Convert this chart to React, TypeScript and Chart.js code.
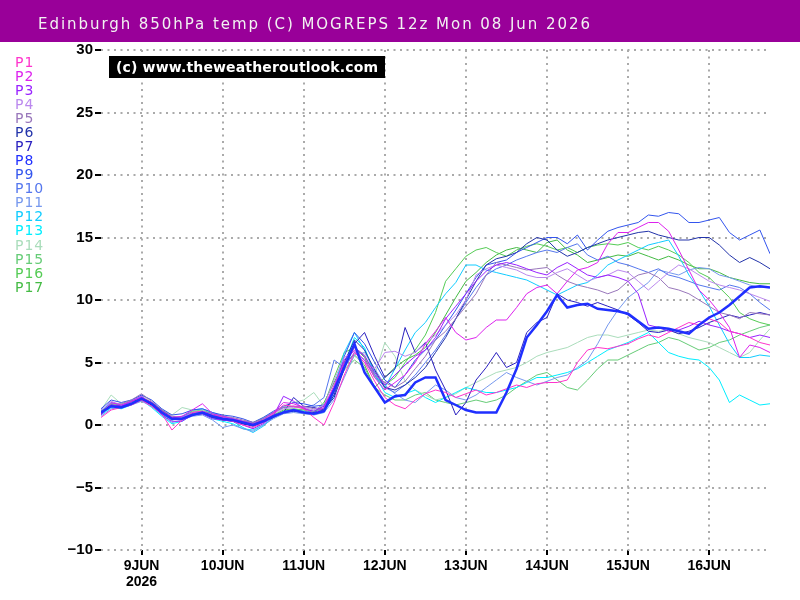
import React, { useEffect, useRef } from 'react';
import { Chart, registerables } from 'chart.js';

Chart.register(...registerables);

const TITLE = 'Edinburgh 850hPa temp (C) MOGREPS 12z Mon 08 Jun 2026';
const WATERMARK = '(c) www.theweatheroutlook.com';

// hours after 08 Jun 12z, 3-hourly
const hours = Array.from({ length: 67 }, (_, k) => k * 3);

const tickHours = [12, 36, 60, 84, 108, 132, 156, 180];
const tickLabels: (string | string[])[] = [['9JUN', '2026'], '10JUN', '11JUN', '12JUN', '13JUN', '14JUN', '15JUN', '16JUN'];

const runLabels = ['P1', 'P2', 'P3', 'P4', 'P5', 'P6', 'P7', 'P8', 'P9', 'P10', 'P11', 'P12', 'P13', 'P14', 'P15', 'P16', 'P17'];
const runColors = ['#ff33cc', '#dd22ee', '#9922ff', '#bb88ee', '#9977bb', '#2233aa', '#2a20c0', '#1f2fff', '#3355ee', '#5577ee', '#7799ee', '#11ccff', '#00eeff', '#aaddbb', '#66cc77', '#55cc55', '#44bb44'];

const P1 = [0.6,1.2,1.4,1.6,2.0,1.5,0.9,-0.4,0.4,1.0, 1.1,0.8,0.6,0.3,0.0,-0.2,0.2,0.9,1.6,1.5, 1.3,0.6,0.0,1.8,4.0,5.8,5.0,3.5,2.2,1.6, 1.3,2.0,2.5,2.8,2.6,2.2,2.5,2.8,2.4,2.6, 2.9,3.2,3.0,3.3,3.4,3.4,3.6,5.0,6.0,6.2, 6.1,6.3,6.5,6.9,7.2,7.0,7.4,7.8,8.2,8.0, 8.5,8.2,7.5,7.3,7.0,6.6,6.4];
const P2 = [0.9,1.8,1.6,1.9,2.2,1.8,1.1,0.6,0.7,1.2, 1.7,0.9,0.7,0.5,0.3,0.1,0.4,1.0,1.8,1.7, 1.4,0.9,1.4,3.2,5.0,6.0,5.2,3.8,2.8,3.4, 4.0,5.0,6.5,7.5,8.6,7.4,6.8,7.0,7.8,8.4, 8.4,9.4,10.5,11.0,11.2,10.5,11.5,12.4,12.6,13.0, 14.5,15.4,15.4,15.8,16.2,16.2,15.5,14.0,12.4,10.8, 10.0,9.0,7.8,5.4,6.4,6.2,5.8];
const P3 = [0.8,1.6,1.5,1.9,2.3,1.7,0.8,0.3,0.3,0.8, 0.9,0.5,0.4,0.3,0.0,-0.3,0.1,0.7,2.3,1.9, 1.3,1.1,1.5,3.0,5.2,6.2,5.5,4.2,3.2,4.0, 4.8,5.5,6.0,7.0,8.5,9.5,10.5,11.5,12.3,12.8, 13.0,12.8,12.5,12.2,12.0,12.6,13.0,12.5,12.0,11.8, 12.0,11.8,11.5,10.5,8.0,7.8,7.5,7.6,7.9,8.3, 8.0,7.8,7.5,7.3,7.0,7.2,7.0];
const P4 = [1.2,1.9,1.6,1.8,2.0,1.5,1.0,0.5,0.6,1.0, 1.1,0.7,0.6,0.5,0.3,0.0,0.4,0.9,1.3,1.4, 1.4,1.2,1.6,3.6,5.4,5.9,5.0,4.5,5.8,5.9, 5.5,5.8,6.5,7.2,8.0,8.8,10.0,12.0,12.5,12.8, 12.6,12.4,12.0,11.8,11.8,12.2,12.5,12.0,11.5,11.8, 12.0,12.4,12.2,11.5,10.8,11.5,12.2,12.8,12.5,12.0, 11.5,11.2,11.0,10.8,10.5,10.2,9.9];
const P5 = [1.1,1.7,1.7,2.0,2.5,1.9,1.2,0.7,0.6,0.9, 1.0,0.8,0.7,0.6,0.4,0.2,0.5,1.0,1.4,1.5, 1.5,1.3,1.3,2.6,4.8,6.2,5.6,4.0,3.4,3.0, 3.5,4.5,5.5,6.8,7.5,8.5,9.5,10.5,12.0,13.0, 12.8,12.6,12.4,12.5,12.6,12.0,11.5,11.2,11.0,10.8, 10.5,10.8,11.5,12.0,12.2,11.8,11.0,10.8,10.5,10.0, 9.5,9.0,8.8,8.5,9.0,8.9,8.8];
const P6 = [0.9,1.5,1.4,1.8,2.2,1.8,1.2,0.6,0.5,0.8, 0.9,0.6,0.4,0.3,0.1,0.0,0.3,0.7,1.0,1.1, 1.0,1.0,1.2,2.4,5.0,6.8,6.0,4.4,3.0,2.8, 3.2,3.8,4.6,5.8,7.0,8.5,10.0,11.5,12.8,13.3, 13.5,13.8,14.5,15.0,14.8,14.0,13.5,13.8,14.2,14.5, 14.8,15.0,15.2,15.4,15.5,15.2,15.0,14.8,14.8,15.0, 15.0,14.4,13.6,13.0,13.4,13.0,12.5];
const P7 = [1.0,1.6,1.5,1.7,2.0,1.6,1.1,0.6,0.6,0.9, 1.0,0.6,0.5,0.4,0.1,-0.1,0.2,0.6,1.0,2.2, 1.5,1.4,1.2,2.2,4.5,6.5,7.4,5.5,3.8,4.5, 7.8,5.8,6.6,4.4,2.8,0.8,1.8,3.6,4.6,5.8, 4.6,5.0,7.4,8.2,8.6,10.5,10.0,9.8,9.5,9.8, 9.5,9.2,8.8,8.2,7.5,7.4,7.6,7.3,7.5,7.8, 8.2,8.5,8.8,8.6,8.8,9.0,8.8];
const P8 = [1.0,1.5,1.4,1.7,2.1,1.7,1.0,0.5,0.5,0.8, 1.0,0.7,0.5,0.4,0.2,0.0,0.3,0.7,1.0,1.2, 1.0,0.9,1.1,2.8,4.6,6.5,4.2,3.0,1.8,2.3, 2.4,3.4,3.8,3.8,2.0,1.6,1.2,1.0,1.0,1.0, 2.6,4.5,7.0,8.0,9.1,10.4,9.4,9.6,9.7,9.3, 9.2,9.1,8.9,8.3,7.7,7.8,7.7,7.5,7.3,8.0, 8.6,9.0,9.6,10.3,11.0,11.1,11.0];
const P9 = [1.3,2.0,1.8,2.0,2.4,2.0,1.3,0.8,0.9,1.2, 1.3,1.0,0.8,0.7,0.5,0.2,0.6,1.1,1.5,1.8, 1.7,1.5,1.6,2.7,5.5,7.4,6.5,5.0,3.6,3.0, 4.0,5.2,6.0,6.8,8.0,9.2,10.5,11.8,12.8,13.0, 13.2,13.8,14.2,14.6,15.0,15.0,14.5,15.2,14.0,14.8, 15.5,15.8,16.0,16.2,16.8,16.7,17.0,16.9,16.2,16.2, 16.4,16.6,15.4,14.8,15.2,15.6,13.7];
const P10 = [1.0,1.6,1.5,1.8,2.1,1.7,1.0,0.5,0.7,1.0, 1.1,0.9,0.7,0.5,0.3,0.2,0.5,1.0,1.4,1.5, 1.4,1.6,2.2,5.2,4.6,5.8,5.2,4.0,3.0,2.6, 3.2,4.0,5.0,6.0,7.2,8.5,9.8,11.0,12.0,12.5, 12.8,13.2,13.5,13.8,14.0,13.8,14.2,14.5,13.6,13.2, 13.5,13.0,12.8,12.5,12.2,12.5,12.0,11.8,11.5,11.2, 11.0,10.8,11.2,11.0,10.5,9.8,9.2];
const P11 = [0.7,1.3,1.4,1.6,1.9,1.5,0.8,0.2,0.4,0.7, 0.8,0.4,-0.2,0.0,-0.3,-0.5,0.0,0.5,0.9,1.0, 0.9,0.8,1.0,2.0,3.8,5.6,5.8,4.5,3.2,2.5, 2.0,1.8,2.5,3.2,2.8,2.2,2.0,2.4,3.0,3.6, 4.2,3.8,3.5,3.2,3.5,3.8,4.0,4.6,5.2,6.5, 8.0,9.2,10.2,10.8,11.4,12.4,12.2,12.0,12.4,12.6, 12.5,12.0,11.8,11.5,11.2,11.0,11.0];
const P12 = [1.1,1.8,1.6,1.9,2.2,1.6,0.9,0.4,0.6,1.2, 1.3,1.0,0.7,0.3,-0.2,-0.6,-0.1,0.6,1.1,1.2, 1.1,1.0,1.3,3.0,5.8,7.4,6.0,4.2,3.0,4.5, 6.0,7.4,8.2,9.4,10.5,11.4,12.8,12.8,12.4,12.2, 12.0,11.8,11.6,11.2,10.8,10.4,10.8,11.2,11.4,12.0, 12.8,13.2,13.6,14.0,14.4,14.6,14.8,13.5,12.0,10.8, 9.5,8.0,6.5,5.4,5.4,5.6,5.5];
const P13 = [0.8,1.4,1.3,1.6,2.0,1.4,0.7,0.1,0.3,0.8, 0.9,0.5,0.3,0.1,-0.3,-0.4,0.0,0.6,1.0,1.1, 1.0,0.9,1.0,2.4,4.8,7.0,6.2,4.0,2.6,2.2, 2.5,2.8,2.2,1.8,2.2,2.6,3.0,2.8,2.6,2.6, 2.8,3.0,3.4,3.8,3.8,4.0,4.2,4.5,5.0,5.5, 6.0,6.3,6.6,7.0,7.4,6.6,5.8,5.5,5.3,5.2, 4.6,3.6,1.8,2.4,2.0,1.6,1.7];
const P14 = [1.2,2.4,1.7,2.0,2.4,1.8,1.2,0.8,1.4,1.2, 1.2,0.8,0.6,0.5,0.3,0.2,0.6,1.0,1.4,1.8, 2.0,2.6,1.5,2.8,4.4,5.5,5.0,4.0,6.6,5.5, 3.5,2.8,2.4,2.0,2.2,2.5,3.0,3.4,3.8,4.2, 4.4,4.6,5.0,5.5,5.8,6.0,6.2,6.6,7.0,7.2, 7.2,7.0,7.2,7.4,7.6,7.5,7.6,7.3,7.0,6.8, 6.6,6.2,5.8,5.4,5.8,6.8,7.7];
const P15 = [0.9,1.5,1.6,1.9,2.1,1.5,0.9,0.5,0.6,1.0, 1.1,0.7,0.4,0.3,0.1,0.0,0.4,0.8,1.1,1.2, 1.3,1.1,1.3,2.8,4.4,5.2,4.6,3.0,2.4,2.0, 2.0,2.4,2.6,2.0,1.8,1.6,1.8,2.0,1.8,2.0, 2.4,3.0,3.5,4.0,4.2,3.6,3.0,2.8,3.6,4.5, 5.2,5.2,5.6,6.0,6.4,6.6,7.0,6.8,6.4,6.0, 6.2,6.6,6.8,7.2,7.5,7.8,8.0];
const P16 = [1.0,1.7,1.6,1.9,2.1,1.6,1.1,0.5,0.6,1.1, 1.2,0.9,0.6,0.4,0.2,0.1,0.4,0.8,1.2,1.3, 1.2,1.0,1.6,3.8,5.8,6.2,5.4,3.8,3.2,3.8, 5.0,6.0,7.2,9.0,11.5,12.5,13.5,14.0,14.2,13.8, 13.5,14.0,14.3,14.5,14.3,14.0,14.2,13.8,14.2,14.4, 14.5,14.4,14.6,14.2,14.0,14.3,14.0,13.6,13.0,12.2, 11.8,11.0,10.2,9.0,8.5,8.2,8.0];
const P17 = [1.1,1.6,1.4,1.8,2.0,1.5,0.9,0.4,0.6,0.9, 1.0,0.6,0.5,0.4,0.2,0.0,0.3,0.7,1.1,1.2, 1.1,1.0,1.8,3.4,5.0,5.6,4.8,3.0,3.8,4.6, 5.2,5.6,6.2,7.4,8.8,10.2,11.5,12.2,13.0,13.6, 14.0,14.2,14.0,13.8,14.6,14.8,14.0,13.6,13.0,13.2, 13.4,13.6,13.5,13.8,13.5,13.2,13.5,13.2,12.8,12.5, 12.5,12.2,11.8,11.6,11.4,11.3,11.3];

const members = [P1, P2, P3, P4, P5, P6, P7, P8, P9, P10, P11, P12, P13, P14, P15, P16, P17];
const BOLD_INDEX = 7;

function fitText(ctx: CanvasRenderingContext2D, text: string, x: number, y: number, width: number) {
  (ctx as any).letterSpacing = '0px';
  const w = ctx.measureText(text).width;
  const sp = (width - w) / (text.length - 1);
  (ctx as any).letterSpacing = sp + 'px';
  ctx.fillText(text, x, y);
  (ctx as any).letterSpacing = '0px';
}

const decorPlugin = {
  id: 'decor',
  beforeDraw(chart: any) {
    const ctx: CanvasRenderingContext2D = chart.ctx;
    ctx.save();
    ctx.fillStyle = '#ffffff';
    ctx.fillRect(0, 0, chart.width, chart.height);
    ctx.fillStyle = '#990099';
    ctx.fillRect(0, 0, chart.width, 42);
    ctx.fillStyle = '#f2f2f2';
    ctx.font = '15px "DejaVu Sans"';
    ctx.textBaseline = 'alphabetic';
    ctx.textAlign = 'left';
    fitText(ctx, TITLE, 38, 28.5, 552);
    ctx.restore();
  },
  afterDraw(chart: any) {
    const ctx: CanvasRenderingContext2D = chart.ctx;
    ctx.save();
    ctx.fillStyle = '#000000';
    ctx.fillRect(109, 56, 276, 22);
    ctx.fillStyle = '#ffffff';
    ctx.font = 'bold 14px "DejaVu Sans"';
    ctx.textBaseline = 'alphabetic';
    ctx.textAlign = 'left';
    fitText(ctx, WATERMARK, 116, 72, 262);
    ctx.font = '14px "DejaVu Sans"';
    (ctx as any).letterSpacing = '1px';
    runLabels.forEach((l, i) => {
      ctx.fillStyle = runColors[i];
      ctx.fillText(l, 15, 67 + i * 14.04);
    });
    (ctx as any).letterSpacing = '0px';
    ctx.restore();
  },
};

export default function App() {
  const ref = useRef<HTMLCanvasElement | null>(null);
  useEffect(() => {
    document.body.style.margin = '0';
    if (!ref.current) return;
    const chart = new Chart(ref.current, {
      type: 'line',
      data: {
        datasets: members.map((vals, i) => ({
          label: runLabels[i],
          data: vals.map((v, k) => ({ x: hours[k], y: v })),
          borderColor: runColors[i],
          backgroundColor: runColors[i],
          borderWidth: i === BOLD_INDEX ? 2.5 : 1,
          pointRadius: 0,
          fill: false,
          tension: 0,
          order: i === BOLD_INDEX ? -1 : i,
        })),
      },
      options: {
        responsive: false,
        animation: false,
        events: [],
        layout: { padding: { top: 50, right: 30, bottom: 0, left: 0 } },
        plugins: {
          legend: { display: false },
          title: { display: false },
          tooltip: { enabled: false },
        },
        scales: {
          x: {
            type: 'linear',
            min: 0,
            max: 198,
            afterBuildTicks: (s: any) => {
              s.ticks = tickHours.map((v) => ({ value: v }));
            },
            afterFit: (s: any) => {
              s.height = 50;
            },
            ticks: {
              autoSkip: false,
              maxRotation: 0,
              padding: 3,
              color: '#000000',
              font: { family: 'Liberation Sans', size: 14, weight: 'bold', lineHeight: 1.15 },
              callback: (_v: any, idx: number) => tickLabels[idx],
            },
            grid: {
              color: '#aaaaaa',
              lineWidth: 2,
              drawTicks: true,
              tickLength: 5,
              tickColor: '#000000',
              tickWidth: 2,
              tickBorderDash: [],
            },
            border: { display: false, dash: [2, 4.5] },
          },
          y: {
            type: 'linear',
            min: -10,
            max: 30,
            afterFit: (s: any) => {
              s.width = 101;
            },
            ticks: {
              stepSize: 5,
              padding: 2,
              color: '#000000',
              font: { family: 'Liberation Sans', size: 15, weight: 'bold' },
              callback: (v: any) => (Number(v) < 0 ? '\u2212' + Math.abs(Number(v)) : String(v)),
            },
            grid: {
              color: '#aaaaaa',
              lineWidth: 2,
              drawTicks: true,
              tickLength: 6,
              tickColor: '#000000',
              tickWidth: 2,
              tickBorderDash: [],
            },
            border: { display: false, dash: [2, 4.5] },
          },
        },
      },
      plugins: [decorPlugin],
    } as any);
    return () => chart.destroy();
  }, []);
  return (
    <div style={{ position: 'absolute', left: 0, top: 0, width: 800, height: 600 }}>
      <canvas ref={ref} width={800} height={600} />
    </div>
  );
}
